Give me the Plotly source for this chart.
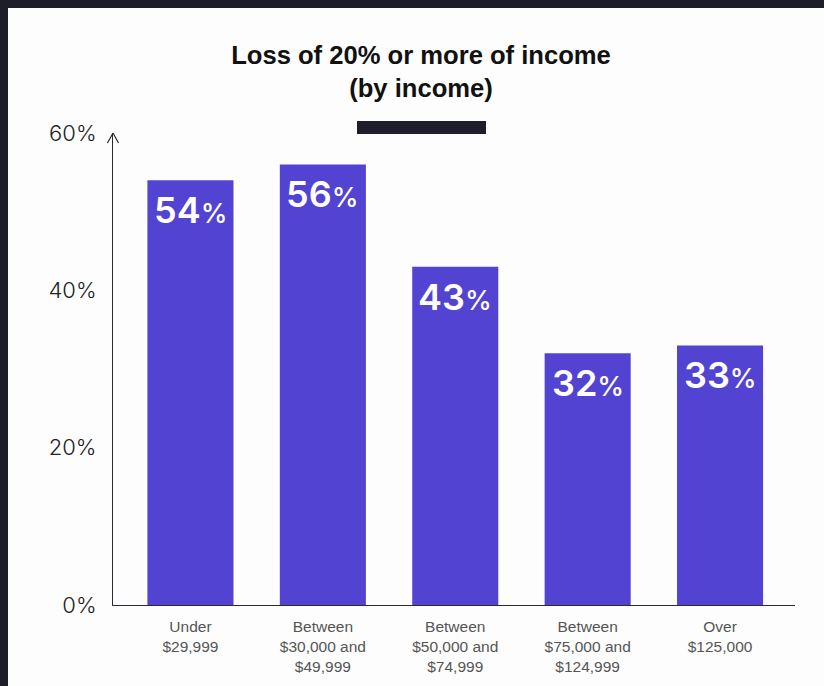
import plotly.graph_objects as go

categories = ["Under<br>$29,999", "Between<br>$30,000 and<br>$49,999", "Between<br>$50,000 and<br>$74,999",
              "Between<br>$75,000 and<br>$124,999", "Over<br>$125,000"]
values = [54, 56, 43, 32, 33]
y_ticks = [0, 20, 40, 60]
y_tick_labels = ["0%", "20%", "40%", "60%"]

W, H = 824, 686
ML, MR, MT, MB = 113, 29, 133, 81
PW, PH = W - ML - MR, H - MT - MB

def px_x(p):
    return (p - ML) / PW

def px_y(p):
    return (H - MB - p) / PH

BAR = "#5243D3"
DARK = "#1E1E2A"

fig = go.Figure()
fig.add_trace(go.Bar(
    x=categories, y=values, marker=dict(color=BAR, line=dict(width=0)),
    hoverinfo="skip", showlegend=False,
))

for c, v in zip(categories, values):
    fig.add_annotation(
        x=c, y=v, xref="x", yref="y", yanchor="top", xanchor="center",
        yshift=-6, showarrow=False,
        text=f"{v}<span style='font-size:27px;font-weight:500'>%</span>",
        font=dict(family="Inter", size=36, color="white", weight=600),
    )

shapes = [
    # dark frame top and left
    dict(type="rect", xref="paper", yref="paper", x0=px_x(0), x1=px_x(W), y0=px_y(0), y1=px_y(8),
         fillcolor=DARK, line=dict(width=0), layer="above"),
    dict(type="rect", xref="paper", yref="paper", x0=px_x(0), x1=px_x(8), y0=px_y(0), y1=px_y(H),
         fillcolor=DARK, line=dict(width=0), layer="above"),
    # decorative bar below title
    dict(type="rect", xref="paper", yref="paper", x0=px_x(357), x1=px_x(486), y0=px_y(121), y1=px_y(134),
         fillcolor=DARK, line=dict(width=0)),
    # arrow head on y axis
    dict(type="path", xref="paper", yref="y", xsizemode="pixel", ysizemode="pixel",
         xanchor=0, yanchor=60, path="M -5.5,-10 L 0,0 L 5.5,-10",
         line=dict(color="#2A2A35", width=1.2)),
]

fig.update_layout(
    width=W, height=H,
    margin=dict(l=ML, r=MR, t=MT, b=MB, pad=0),
    paper_bgcolor="#FDFDFD", plot_bgcolor="#FDFDFD",
    shapes=shapes,
    bargap=0.35,
    title=dict(text="<b>Loss of 20% or more of income<br>(by income)</b>",
               x=421 / W, xref="container", xanchor="center",
               y=1 - 64 / H, yref="container", yanchor="top",
               font=dict(family="Liberation Sans", size=25.6, color="#111111")),
    xaxis=dict(range=[-0.585, 4.566], showgrid=False, zeroline=False,
               showline=True, linecolor="#2A2A35", linewidth=1.2,
               ticks="", ticklabelstandoff=7,
               tickfont=dict(family="Liberation Sans", size=15.5, color="#555555"),
               fixedrange=True),
    yaxis=dict(range=[0, 60], tickvals=y_ticks, ticktext=y_tick_labels,
               showgrid=False, zeroline=False, showline=True, linecolor="#2A2A35", linewidth=1.2,
               ticks="", ticklabelstandoff=11,
               tickfont=dict(family="Inter", size=22, color="#222222", weight=300),
               fixedrange=True),
)

fig.write_html("out.html")
